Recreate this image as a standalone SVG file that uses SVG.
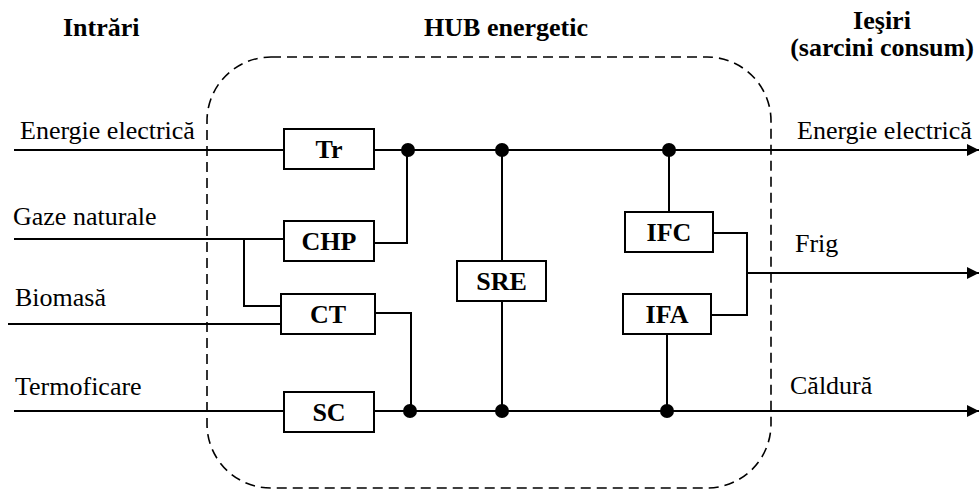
<svg xmlns="http://www.w3.org/2000/svg" width="979" height="490" viewBox="0 0 979 490" font-family="Liberation Serif, Times New Roman, serif" font-size="26">
<defs>
<style>
.b{font-weight:bold}
.box{fill:#fff;stroke:#000;stroke-width:2}
.ln{fill:none;stroke:#000;stroke-width:2}
.dot{fill:#000}
</style>
<marker id="arr" viewBox="0 0 12 12" refX="12" refY="6" markerWidth="12" markerHeight="12" markerUnits="userSpaceOnUse" orient="auto">
<path d="M0,0 L12,6 L0,12 Z" fill="#000"/>
</marker>
</defs>
<rect width="979" height="490" fill="#fff"/>
<g id="headers">
<text class="b" x="63" y="36">Intrări</text>
<text class="b" x="506" y="36" text-anchor="middle">HUB energetic</text>
<text class="b" x="882" y="29" text-anchor="middle">Ieşiri</text>
<text class="b" x="882" y="56" text-anchor="middle">(sarcini consum)</text>
</g>
<g id="hub-boundary">
<rect x="207" y="57" width="564" height="431" rx="64" ry="64" fill="none" stroke="#000" stroke-width="1.6" stroke-dasharray="10,6"/>
</g>
<g id="connectors">
<path class="ln" d="M14,150 H284"/>
<path class="ln" d="M14,239 H284"/>
<path class="ln" d="M244,239 V306 H281"/>
<path class="ln" d="M8,324 H281"/>
<path class="ln" d="M14,411 H284"/>
<path class="ln" d="M374,150 H979" marker-end="url(#arr)"/>
<path class="ln" d="M374,411 H979" marker-end="url(#arr)"/>
<path class="ln" d="M374,243 H407 V150"/>
<path class="ln" d="M375,313 H411 V411"/>
<path class="ln" d="M502,150 V411"/>
<path class="ln" d="M669,150 V212"/>
<path class="ln" d="M667,334 V411"/>
<path class="ln" d="M712,233 H747 V315 H712"/>
<path class="ln" d="M747,273 H979" marker-end="url(#arr)"/>
<circle class="dot" cx="408" cy="150" r="7"/>
<circle class="dot" cx="502" cy="150" r="7"/>
<circle class="dot" cx="669" cy="150" r="7"/>
<circle class="dot" cx="410" cy="411" r="7"/>
<circle class="dot" cx="502" cy="411" r="7"/>
<circle class="dot" cx="667" cy="411" r="7"/>
</g>
<g id="labels">
<text x="20" y="139">Energie electrică</text>
<text x="13" y="225">Gaze naturale</text>
<text x="15" y="306">Biomasă</text>
<text x="15" y="395">Termoficare</text>
<text x="797" y="139">Energie electrică</text>
<text x="795" y="252">Frig</text>
<text x="790" y="394">Căldură</text>
</g>
<g id="Tr"><rect class="box" x="284" y="129" width="90" height="40"/><text class="b" x="329" y="158" text-anchor="middle">Tr</text></g>
<g id="CHP"><rect class="box" x="284" y="221" width="90" height="40"/><text class="b" x="329" y="250" text-anchor="middle">CHP</text></g>
<g id="CT"><rect class="box" x="281" y="294" width="94" height="40"/><text class="b" x="328" y="323" text-anchor="middle">CT</text></g>
<g id="SC"><rect class="box" x="284" y="392" width="90" height="40"/><text class="b" x="329" y="421" text-anchor="middle">SC</text></g>
<g id="SRE"><rect class="box" x="457" y="261" width="89" height="40"/><text class="b" x="501.5" y="290" text-anchor="middle">SRE</text></g>
<g id="IFC"><rect class="box" x="625" y="212" width="88" height="40"/><text class="b" x="669" y="241" text-anchor="middle">IFC</text></g>
<g id="IFA"><rect class="box" x="623" y="294" width="88" height="40"/><text class="b" x="667" y="323" text-anchor="middle">IFA</text></g>
</svg>
